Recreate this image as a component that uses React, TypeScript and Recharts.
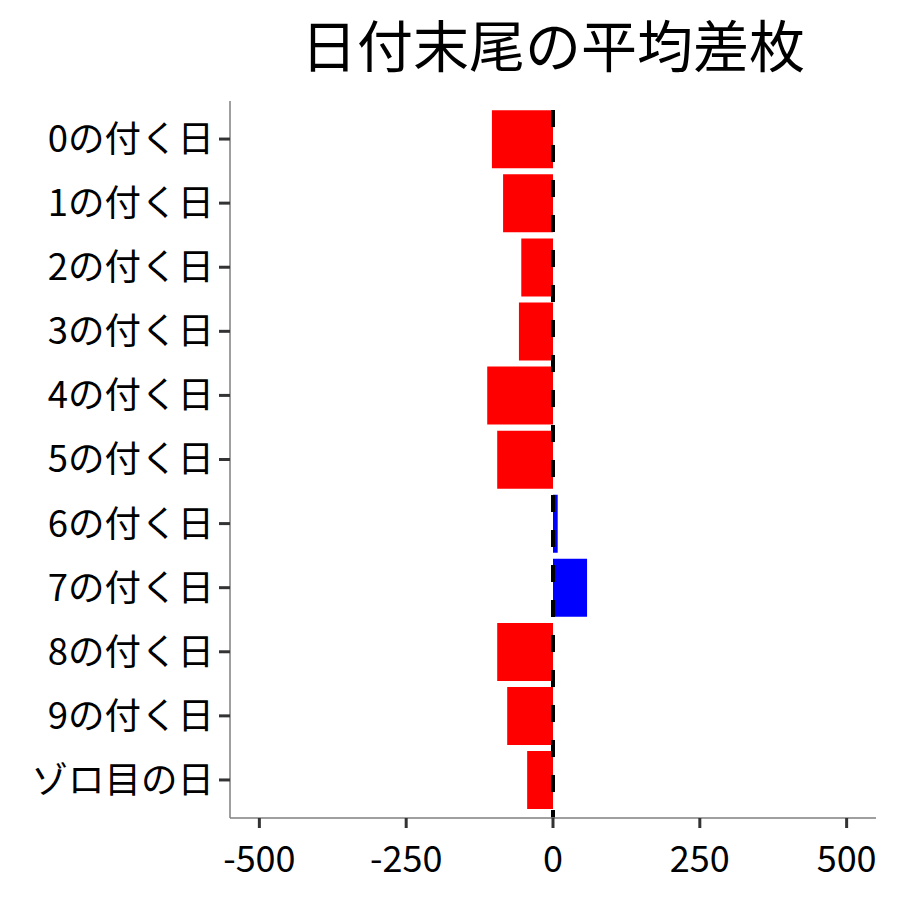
import { BarChart, Bar, XAxis, YAxis, Cell, ReferenceLine } from 'recharts'

const categories = [
  '0の付く日', '1の付く日', '2の付く日', '3の付く日', '4の付く日',
  '5の付く日', '6の付く日', '7の付く日', '8の付く日', '9の付く日', 'ゾロ目の日',
]
const avgDiff = [-104, -85, -54, -58, -112, -95, 8, 58, -95, -78, -44]
const xTicks = [-500, -250, 0, 250, 500]

const data = categories.map((name, i) => ({ name, value: avgDiff[i] }))

const FONT = '"Noto Sans CJK JP", "Noto Sans", sans-serif'

export default function App() {
  return (
    <div style={{ position: 'absolute', left: 0, top: 0, width: 900, height: 900, background: '#fff', fontFamily: FONT }}>
      <div
        style={{
          position: 'absolute', left: 203, width: 700, top: 3, textAlign: 'center',
          fontSize: 56, lineHeight: '80px', color: '#000',
        }}
      >
        日付末尾の平均差枚
      </div>
      <BarChart
        width={900}
        height={900}
        data={data}
        layout="vertical"
        margin={{ top: 101, right: 24, bottom: 2, left: 0 }}
        barCategoryGap="5%"
      >
        <XAxis
          type="number"
          domain={[-550, 550]}
          ticks={xTicks}
          allowDataOverflow
          height={80}
          axisLine={{ stroke: '#7f7f7f', strokeWidth: 1.5 }}
          tickLine={{ stroke: '#333', strokeWidth: 3 }}
          tickSize={10}
          tickMargin={18}
          tick={{ fill: '#000', fontSize: 36, fontFamily: FONT }}
        />
        <YAxis
          type="category"
          dataKey="name"
          width={230}
          padding={{ top: 6, bottom: 6 }}
          axisLine={{ stroke: '#7f7f7f', strokeWidth: 1.5 }}
          tickLine={{ stroke: '#333', strokeWidth: 3 }}
          tickSize={11}
          tickMargin={5}
          tick={{ fill: '#000', fontSize: 36.5, fontFamily: FONT }}
          interval={0}
        />
        <Bar dataKey="value" isAnimationActive={false}>
          {data.map((d) => (
            <Cell key={d.name} fill={d.value < 0 ? '#ff0000' : '#0000ff'} />
          ))}
        </Bar>
        <ReferenceLine x={0} stroke="#000" strokeWidth={4} strokeDasharray="17 18" strokeDashoffset={9} />
      </BarChart>
    </div>
  )
}
